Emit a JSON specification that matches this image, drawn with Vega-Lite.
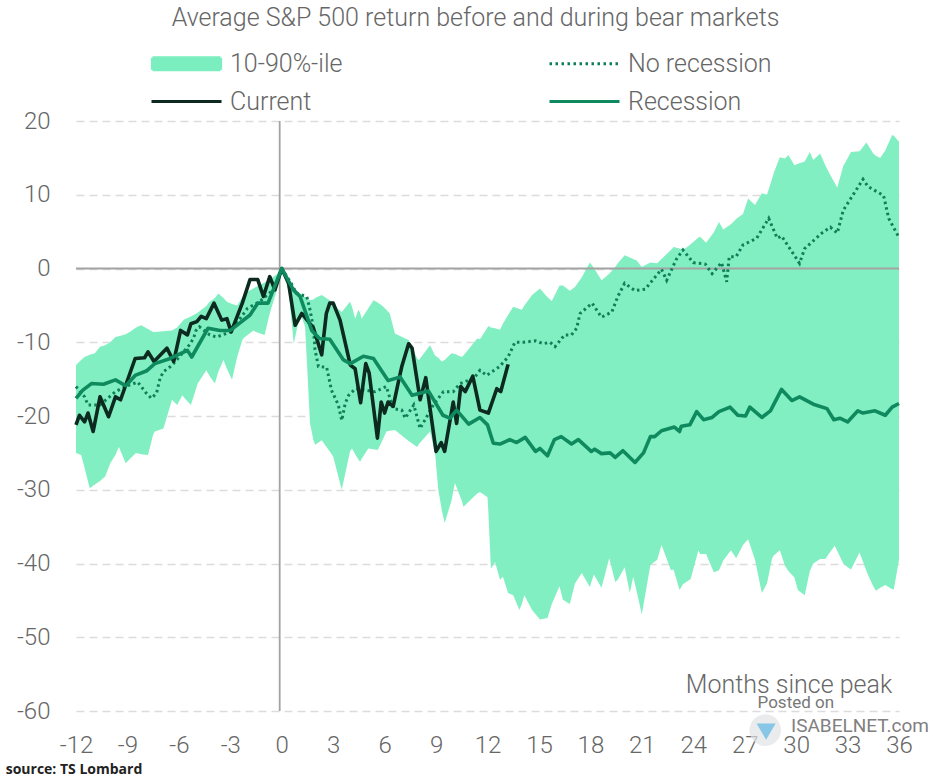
{"$schema":"https://vega.github.io/schema/vega-lite/v6.json","width":823,"height":590,"autosize":"none","padding":{"left":76,"top":121,"right":31,"bottom":69},"background":"white","config":{"view":{"stroke":null},"font":"Roboto"},"title":{"text":"Average S&P 500 return before and during bear markets","font":"Roboto","fontSize":25,"fontWeight":300,"color":"#666666","anchor":"middle","dx":-12,"offset":20},"datasets":{"band":[{"month":-12,"low":-25,"high":-13.1},{"month":-11.7,"low":-25.3,"high":-12.4},{"month":-11.5,"low":-27,"high":-12},{"month":-11.2,"low":-29.8,"high":-11.7},{"month":-10.9,"low":-29.3,"high":-11.5},{"month":-10.6,"low":-28.8,"high":-10.6},{"month":-10.3,"low":-28.2,"high":-10.4},{"month":-10,"low":-26.4,"high":-10},{"month":-9.7,"low":-25.3,"high":-9.3},{"month":-9.5,"low":-24.2,"high":-9.2},{"month":-9.1,"low":-26.4,"high":-8.9},{"month":-8.8,"low":-25.7,"high":-8.5},{"month":-8.5,"low":-25,"high":-8},{"month":-8.2,"low":-25.2,"high":-7.7},{"month":-7.8,"low":-25.3,"high":-8.2},{"month":-7.5,"low":-22.5,"high":-8.6},{"month":-7.4,"low":-22.1,"high":-8.6},{"month":-6.9,"low":-21.7,"high":-8.5},{"month":-6.4,"low":-17.8,"high":-8.4},{"month":-6.1,"low":-18.5,"high":-8},{"month":-5.8,"low":-17.2,"high":-7.2},{"month":-5.7,"low":-17.5,"high":-6.9},{"month":-5.3,"low":-18.5,"high":-6.5},{"month":-4.9,"low":-15.6,"high":-6},{"month":-4.4,"low":-13.8,"high":-5.1},{"month":-4.2,"low":-14.6,"high":-4.5},{"month":-3.9,"low":-15.6,"high":-4},{"month":-3.7,"low":-14,"high":-3.4},{"month":-3.4,"low":-12.4,"high":-4},{"month":-3.2,"low":-13.6,"high":-4.5},{"month":-2.9,"low":-15.1,"high":-4.8},{"month":-2.6,"low":-12,"high":-5},{"month":-2.3,"low":-9.7,"high":-3.9},{"month":-2.2,"low":-9.4,"high":-3.4},{"month":-1.65,"low":-8.4,"high":-2.7},{"month":-1.5,"low":-8.6,"high":-2.5},{"month":-1,"low":-9,"high":-1.9},{"month":-0.7,"low":-6.1,"high":-1.5},{"month":-0.3,"low":-3,"high":-0.8},{"month":0,"low":0,"high":0},{"month":0.4,"low":-3,"high":-2},{"month":0.7,"low":-10.2,"high":-2.8},{"month":0.9,"low":-8,"high":-3.1},{"month":1.1,"low":-6.1,"high":-3.4},{"month":1.36,"low":-7.9,"high":-3.9},{"month":1.65,"low":-21,"high":-4.3},{"month":1.85,"low":-23.3,"high":-4.2},{"month":1.95,"low":-23.9,"high":-4},{"month":2.33,"low":-23.3,"high":-3.6},{"month":2.8,"low":-24.8,"high":-4.3},{"month":3,"low":-25.5,"high":-4.9},{"month":3.5,"low":-30,"high":-5.9},{"month":3.98,"low":-24.8,"high":-4.5},{"month":4.1,"low":-24.4,"high":-5.2},{"month":4.28,"low":-25.2,"high":-6.8},{"month":4.47,"low":-25.9,"high":-5.6},{"month":4.57,"low":-26.2,"high":-6},{"month":4.66,"low":-25.8,"high":-6.8},{"month":5.05,"low":-24.4,"high":-5.4},{"month":5.35,"low":-24.5,"high":-4.3},{"month":5.6,"low":-24.6,"high":-4.6},{"month":5.93,"low":-23,"high":-5.2},{"month":6.1,"low":-22.1,"high":-5.6},{"month":6.3,"low":-22,"high":-6.1},{"month":6.6,"low":-21.9,"high":-8.8},{"month":7.2,"low":-23,"high":-9.5},{"month":7.4,"low":-23.4,"high":-9.7},{"month":7.9,"low":-24.2,"high":-12.2},{"month":8,"low":-23.8,"high":-12.4},{"month":8.65,"low":-22.1,"high":-10.4},{"month":8.94,"low":-25,"high":-11.8},{"month":9.13,"low":-30,"high":-12.1},{"month":9.33,"low":-32.7,"high":-12.6},{"month":9.5,"low":-34.5,"high":-12.4},{"month":9.9,"low":-31.5,"high":-11.5},{"month":10.1,"low":-29.1,"high":-11.6},{"month":10.5,"low":-31.5,"high":-12},{"month":10.6,"low":-32.3,"high":-11.8},{"month":11.4,"low":-30.5,"high":-9.5},{"month":11.56,"low":-30.3,"high":-9.6},{"month":12,"low":-31,"high":-8},{"month":12.05,"low":-33,"high":-7.8},{"month":12.2,"low":-40.7,"high":-8},{"month":12.44,"low":-39.8,"high":-8.1},{"month":12.73,"low":-42.2,"high":-8.3},{"month":12.9,"low":-41.8,"high":-7.5},{"month":13.2,"low":-44,"high":-6.3},{"month":13.5,"low":-44.3,"high":-5.2},{"month":13.86,"low":-46.3,"high":-5.5},{"month":14,"low":-45.5,"high":-5.6},{"month":14.15,"low":-44.3,"high":-5},{"month":14.6,"low":-46.3,"high":-3.6},{"month":15.06,"low":-47.6,"high":-2.7},{"month":15.5,"low":-47.4,"high":-3.9},{"month":15.75,"low":-45.5,"high":-4.4},{"month":16.2,"low":-43.1,"high":-2.3},{"month":16.4,"low":-44.9,"high":-2.3},{"month":16.8,"low":-45.5,"high":-3},{"month":17.1,"low":-42.7,"high":-2.5},{"month":17.5,"low":-41.3,"high":-1.2},{"month":17.97,"low":-43.2,"high":0.8},{"month":18.2,"low":-41.5,"high":0.1},{"month":18.65,"low":-43.3,"high":-1.6},{"month":19.1,"low":-39.3,"high":-0.7},{"month":19.45,"low":-42.5,"high":0.2},{"month":19.6,"low":-42.2,"high":0.7},{"month":20,"low":-40.5,"high":1.8},{"month":20.3,"low":-44,"high":1.5},{"month":20.5,"low":-41.8,"high":1.3},{"month":20.7,"low":-43.8,"high":1.1},{"month":21,"low":-46.9,"high":0.2},{"month":21.5,"low":-40.2,"high":0.8},{"month":21.9,"low":-39.5,"high":0.7},{"month":22.15,"low":-37.5,"high":1.3},{"month":22.7,"low":-40.9,"high":2.5},{"month":22.85,"low":-40.8,"high":2.9},{"month":23.2,"low":-43.6,"high":2.7},{"month":23.4,"low":-42.8,"high":2.5},{"month":23.85,"low":-42.1,"high":3.3},{"month":24.3,"low":-38.2,"high":4.2},{"month":24.4,"low":-38.7,"high":4.3},{"month":24.75,"low":-38.7,"high":3.5},{"month":25.2,"low":-41.2,"high":4.9},{"month":25.5,"low":-40.9,"high":6.3},{"month":25.75,"low":-39.6,"high":5.3},{"month":26.2,"low":-38.2,"high":6},{"month":26.5,"low":-39.3,"high":6.7},{"month":26.9,"low":-37.5,"high":7.4},{"month":27.2,"low":-36.7,"high":9.5},{"month":27.6,"low":-39.5,"high":8.6},{"month":28,"low":-44,"high":10.2},{"month":28.3,"low":-42.7,"high":10},{"month":28.6,"low":-39.3,"high":12.2},{"month":28.7,"low":-38.9,"high":13},{"month":29.05,"low":-38.2,"high":15.1},{"month":29.35,"low":-40.3,"high":14.9},{"month":29.55,"low":-41,"high":15.4},{"month":29.9,"low":-41.9,"high":14},{"month":30.1,"low":-43.6,"high":14.2},{"month":30.5,"low":-44.3,"high":14.5},{"month":30.8,"low":-41,"high":15.8},{"month":31,"low":-40,"high":14.7},{"month":31.4,"low":-39.4,"high":15.6},{"month":31.7,"low":-39.4,"high":14},{"month":31.9,"low":-38.7,"high":13.1},{"month":32.25,"low":-37.6,"high":11.6},{"month":32.4,"low":-38.3,"high":11},{"month":32.75,"low":-40,"high":13.9},{"month":32.9,"low":-40.3,"high":14.5},{"month":33.2,"low":-40.8,"high":15.8},{"month":33.7,"low":-38.5,"high":15.9},{"month":34.1,"low":-41,"high":17.1},{"month":34.2,"low":-41.6,"high":16.7},{"month":34.5,"low":-43.1,"high":15.6},{"month":34.65,"low":-43.7,"high":15.3},{"month":34.9,"low":-43.3,"high":15},{"month":35.2,"low":-42.9,"high":16},{"month":35.6,"low":-43.5,"high":18.1},{"month":35.7,"low":-43.5,"high":18},{"month":36,"low":-39.5,"high":17.2}],"norec":[{"month":-12,"value":-16},{"month":-11.5,"value":-17.4},{"month":-11.3,"value":-18.5},{"month":-10.6,"value":-18.5},{"month":-9.7,"value":-16.7},{"month":-9.1,"value":-16},{"month":-8.4,"value":-15.4},{"month":-7.9,"value":-16.9},{"month":-7.6,"value":-17.6},{"month":-7.3,"value":-16.9},{"month":-7.1,"value":-14.9},{"month":-6.9,"value":-14},{"month":-6.5,"value":-13.3},{"month":-6.2,"value":-12.6},{"month":-5.4,"value":-10.4},{"month":-5.15,"value":-9.5},{"month":-5,"value":-8.4},{"month":-4.8,"value":-7.9},{"month":-4.2,"value":-9},{"month":-3.8,"value":-9.3},{"month":-3,"value":-8.6},{"month":-2,"value":-5.4},{"month":-1.3,"value":-4.5},{"month":-0.5,"value":-2.9},{"month":0,"value":0},{"month":0.5,"value":-1.8},{"month":0.87,"value":-3.4},{"month":1.46,"value":-3.8},{"month":1.65,"value":-5.6},{"month":1.85,"value":-8.1},{"month":1.94,"value":-11},{"month":2.14,"value":-13.3},{"month":2.62,"value":-13.4},{"month":2.9,"value":-16.5},{"month":3.3,"value":-18.5},{"month":3.5,"value":-20.6},{"month":3.7,"value":-18.3},{"month":3.9,"value":-17.2},{"month":4.3,"value":-16.3},{"month":5.44,"value":-16.7},{"month":6.1,"value":-16},{"month":6.5,"value":-19},{"month":7,"value":-19.2},{"month":7.2,"value":-20.3},{"month":7.7,"value":-18.5},{"month":7.83,"value":-19.6},{"month":8.07,"value":-21.7},{"month":8.36,"value":-20.5},{"month":8.84,"value":-18.5},{"month":9.43,"value":-16.7},{"month":10,"value":-16.7},{"month":10.4,"value":-15.6},{"month":11.2,"value":-14.9},{"month":11.56,"value":-13.8},{"month":11.95,"value":-14.5},{"month":12.7,"value":-13.3},{"month":13.2,"value":-12},{"month":13.6,"value":-10},{"month":14.1,"value":-10},{"month":14.8,"value":-9.8},{"month":15.25,"value":-10.2},{"month":15.65,"value":-10},{"month":15.94,"value":-10.6},{"month":16.5,"value":-9},{"month":16.9,"value":-9},{"month":17.2,"value":-8.1},{"month":17.4,"value":-6.1},{"month":18.1,"value":-4.7},{"month":18.65,"value":-6.6},{"month":19.25,"value":-5.9},{"month":19.6,"value":-3.8},{"month":20,"value":-2},{"month":20.6,"value":-3},{"month":21.2,"value":-2.8},{"month":21.8,"value":-1.1},{"month":22.15,"value":-0.1},{"month":22.45,"value":-1.6},{"month":23,"value":1.2},{"month":23.4,"value":2.5},{"month":24,"value":0.8},{"month":24.7,"value":0.6},{"month":25.1,"value":-0.7},{"month":25.65,"value":0.8},{"month":25.95,"value":-1.8},{"month":26.1,"value":1.6},{"month":26.5,"value":1.6},{"month":26.9,"value":3.2},{"month":27.7,"value":4.1},{"month":28.4,"value":6.8},{"month":28.9,"value":4.1},{"month":29.15,"value":4.4},{"month":30.2,"value":0.7},{"month":30.5,"value":2.7},{"month":31.5,"value":4.8},{"month":32,"value":5.6},{"month":32.4,"value":4.8},{"month":32.75,"value":7.9},{"month":33.9,"value":12.1},{"month":34.2,"value":11.1},{"month":35.1,"value":9.9},{"month":35.4,"value":6.8},{"month":36,"value":4.2}],"recession":[{"month":-12,"value":-17.6},{"month":-11.6,"value":-16.5},{"month":-11.1,"value":-15.6},{"month":-10.4,"value":-15.7},{"month":-9.7,"value":-15.1},{"month":-9.1,"value":-15.9},{"month":-8.55,"value":-14.5},{"month":-7.9,"value":-13.9},{"month":-7.4,"value":-12.9},{"month":-6.5,"value":-12.2},{"month":-5.5,"value":-11.1},{"month":-5.25,"value":-12},{"month":-4.3,"value":-8.1},{"month":-3.6,"value":-8.4},{"month":-3,"value":-8.4},{"month":-1.85,"value":-6.3},{"month":-1.4,"value":-4.7},{"month":-0.8,"value":-4.7},{"month":0,"value":0},{"month":0.68,"value":-2.9},{"month":1.07,"value":-3.8},{"month":1.75,"value":-8.4},{"month":2.2,"value":-9.5},{"month":2.8,"value":-9.6},{"month":3.6,"value":-12.4},{"month":4,"value":-12.9},{"month":4.76,"value":-11.9},{"month":5.35,"value":-12.2},{"month":6.2,"value":-15.2},{"month":6.9,"value":-14.7},{"month":7.6,"value":-17.2},{"month":8.55,"value":-16.6},{"month":9.4,"value":-19.9},{"month":9.8,"value":-20.3},{"month":10.2,"value":-19.2},{"month":10.9,"value":-21.1},{"month":11.56,"value":-20.2},{"month":12,"value":-21.2},{"month":12.34,"value":-23.7},{"month":12.73,"value":-23.8},{"month":13.3,"value":-23.2},{"month":13.7,"value":-23.6},{"month":14.2,"value":-22.9},{"month":14.8,"value":-24.8},{"month":15.06,"value":-24.4},{"month":15.5,"value":-25.4},{"month":15.9,"value":-23.2},{"month":16.3,"value":-22.8},{"month":16.9,"value":-23.8},{"month":17.3,"value":-23.2},{"month":18.05,"value":-24.8},{"month":18.25,"value":-24.5},{"month":18.65,"value":-25.1},{"month":19.15,"value":-25},{"month":19.45,"value":-25.6},{"month":19.9,"value":-24.7},{"month":20.6,"value":-26.3},{"month":21.1,"value":-25},{"month":21.5,"value":-22.8},{"month":21.75,"value":-22.8},{"month":22.15,"value":-22},{"month":22.9,"value":-21.5},{"month":23.2,"value":-22.1},{"month":23.3,"value":-21.4},{"month":23.8,"value":-21.2},{"month":24.2,"value":-19.4},{"month":24.6,"value":-20.5},{"month":25.1,"value":-20.2},{"month":25.5,"value":-19.4},{"month":26.15,"value":-18.8},{"month":26.6,"value":-19.9},{"month":27.05,"value":-20},{"month":27.3,"value":-18.8},{"month":28,"value":-20.2},{"month":28.5,"value":-19.3},{"month":29.15,"value":-16.4},{"month":29.75,"value":-17.9},{"month":30.2,"value":-17.4},{"month":31,"value":-18.4},{"month":31.8,"value":-19},{"month":32.2,"value":-20.5},{"month":32.55,"value":-20.3},{"month":33,"value":-20.8},{"month":33.6,"value":-19.3},{"month":33.9,"value":-19.6},{"month":34.6,"value":-19.3},{"month":35.2,"value":-19.9},{"month":35.6,"value":-18.8},{"month":36,"value":-18.3}],"current":[{"month":-12,"value":-21.2},{"month":-11.8,"value":-19.9},{"month":-11.5,"value":-20.8},{"month":-11.3,"value":-19.6},{"month":-11,"value":-22.1},{"month":-10.6,"value":-17.4},{"month":-10.1,"value":-20.1},{"month":-9.7,"value":-17.4},{"month":-9.4,"value":-17.8},{"month":-8.55,"value":-12.2},{"month":-8,"value":-12.1},{"month":-7.8,"value":-11.3},{"month":-7.45,"value":-12.6},{"month":-6.7,"value":-10.8},{"month":-6.3,"value":-12.6},{"month":-5.9,"value":-8.4},{"month":-5.5,"value":-9},{"month":-5.3,"value":-7.5},{"month":-4.95,"value":-7.2},{"month":-4.7,"value":-6.5},{"month":-4.4,"value":-6.8},{"month":-3.95,"value":-4.7},{"month":-3.5,"value":-7},{"month":-3.2,"value":-6.8},{"month":-2.95,"value":-8.6},{"month":-2.3,"value":-4.7},{"month":-1.85,"value":-1.5},{"month":-1.4,"value":-1.5},{"month":-1.07,"value":-3.8},{"month":-0.7,"value":-1.1},{"month":-0.4,"value":-2.9},{"month":0,"value":0},{"month":0.4,"value":-2},{"month":0.78,"value":-7.7},{"month":1.17,"value":-6.1},{"month":1.85,"value":-8.1},{"month":2.33,"value":-11.7},{"month":2.6,"value":-6.1},{"month":2.8,"value":-4.7},{"month":3,"value":-4.7},{"month":3.4,"value":-7},{"month":4,"value":-13.1},{"month":4.28,"value":-13.6},{"month":4.6,"value":-18.2},{"month":4.9,"value":-12.9},{"month":5.1,"value":-14.2},{"month":5.58,"value":-23},{"month":5.8,"value":-18.1},{"month":6,"value":-19.6},{"month":6.2,"value":-18.1},{"month":6.5,"value":-18.7},{"month":6.8,"value":-15.4},{"month":7,"value":-13.3},{"month":7.4,"value":-10.2},{"month":7.6,"value":-10.8},{"month":8.07,"value":-17.8},{"month":8.4,"value":-14.8},{"month":9,"value":-24.8},{"month":9.3,"value":-23.6},{"month":9.5,"value":-24.8},{"month":10,"value":-18.1},{"month":10.2,"value":-21},{"month":10.44,"value":-16},{"month":10.7,"value":-16.7},{"month":11.14,"value":-14.6},{"month":11.56,"value":-19.2},{"month":12.05,"value":-19.6},{"month":12.54,"value":-16.3},{"month":12.77,"value":-16.7},{"month":13.2,"value":-13}]},"layer":[{"data":{"name":"band"},"mark":{"type":"area","opacity":0.95},"encoding":{"x":{"field":"month","type":"quantitative","scale":{"domain":[-12,36],"nice":false,"zero":false},"axis":{"values":[-12,-9,-6,-3,0,3,6,9,12,15,18,21,24,27,30,33,36],"grid":false,"domain":false,"ticks":false,"title":null,"labelFont":"Roboto","labelFontSize":24,"labelFontWeight":300,"labelColor":"#666666","labelPadding":22,"labelFlush":false,"labelExpr":"''+datum.value"}},"y":{"field":"low","type":"quantitative","scale":{"domain":[-60,20],"nice":false,"zero":false},"axis":{"values":[20,10,0,-10,-20,-30,-40,-50,-60],"grid":true,"gridColor":"#dcdcdc","gridDash":[8,5],"gridWidth":1.5,"domain":false,"ticks":false,"title":null,"labelFont":"Roboto","labelFontSize":24,"labelFontWeight":300,"labelColor":"#666666","labelPadding":26,"labelExpr":"''+datum.value"}},"y2":{"field":"high"},"color":{"datum":"10-90%-ile","type":"nominal","scale":{"domain":["10-90%-ile","Current","No recession","Recession"],"range":["#7beebf","#0c2a20","#0f7f58","#0f8a5f"]},"legend":{"orient":"none","legendX":98,"legendY":-70,"columns":2,"title":null,"symbolType":"M-7,0H7","symbolSize":100,"labelFont":"Roboto","labelFontSize":25,"labelFontWeight":300,"labelColor":"#666666","labelOffset":31,"columnPadding":200,"rowPadding":12,"encoding":{"symbols":{"opacity":{"value":1},"shape":{"value":{"expr":"datum.value==='10-90%-ile'?'M-6.8,-1.2H6.8V1.2H-6.8Z':'M-7,0H7'"}},"fill":{"value":{"expr":"datum.value==='10-90%-ile'?'#7beebf':'transparent'"}},"stroke":{"value":{"expr":"datum.value==='10-90%-ile'?'#7beebf':datum.value==='Current'?'#0c2a20':datum.value==='No recession'?'#0f7f58':'#0f8a5f'"}},"strokeWidth":{"value":3.2},"strokeDash":{"value":{"expr":"datum.value==='No recession'?[2.5,3.5]:[1,0]"}}}}}}}},{"data":{"values":[{"month":-12,"value":0},{"month":36,"value":0}]},"mark":{"type":"line","color":"#a3a3a3","strokeWidth":1.8},"encoding":{"x":{"field":"month","type":"quantitative"},"y":{"field":"value","type":"quantitative"}}},{"data":{"values":[{"month":-0.12,"value":20},{"month":-0.12,"value":-60}]},"mark":{"type":"line","color":"#a3a3a3","strokeWidth":1.8},"encoding":{"x":{"field":"month","type":"quantitative"},"y":{"field":"value","type":"quantitative"}}},{"data":{"name":"norec"},"mark":{"type":"line","strokeWidth":3,"strokeDash":[2.5,3.2]},"encoding":{"x":{"field":"month","type":"quantitative"},"y":{"field":"value","type":"quantitative"},"color":{"datum":"No recession","type":"nominal"}}},{"data":{"name":"current"},"mark":{"type":"line","strokeWidth":3.6,"strokeJoin":"round"},"encoding":{"x":{"field":"month","type":"quantitative"},"y":{"field":"value","type":"quantitative"},"color":{"datum":"Current","type":"nominal"}}},{"data":{"name":"recession"},"mark":{"type":"line","strokeWidth":3.6,"strokeJoin":"round"},"encoding":{"x":{"field":"month","type":"quantitative"},"y":{"field":"value","type":"quantitative"},"color":{"datum":"Recession","type":"nominal"}}},{"data":{"values":[{"month":28.2,"value":-62.6}]},"mark":{"type":"point","shape":"circle","filled":true,"size":1000,"color":"#dfe3e6"},"encoding":{"x":{"field":"month","type":"quantitative"},"y":{"field":"value","type":"quantitative"}}},{"data":{"values":[{"month":28.25,"value":-62.8}]},"mark":{"type":"point","shape":"triangle-down","filled":true,"size":360,"color":"#5db7e2"},"encoding":{"x":{"field":"month","type":"quantitative"},"y":{"field":"value","type":"quantitative"}}},{"data":{"values":[{"month":35.6,"value":-56.5,"label":"Months since peak"}]},"mark":{"type":"text","align":"right","baseline":"middle","font":"Roboto","fontSize":25,"fontWeight":300,"color":"#666666"},"encoding":{"x":{"field":"month","type":"quantitative"},"y":{"field":"value","type":"quantitative"},"text":{"field":"label"}}},{"data":{"values":[{"month":-16.1,"value":-68,"label":"source: TS Lombard"}]},"mark":{"type":"text","align":"left","baseline":"middle","font":"Open Sans","fontSize":14,"fontWeight":700,"color":"#222222"},"encoding":{"x":{"field":"month","type":"quantitative"},"y":{"field":"value","type":"quantitative"},"text":{"field":"label"}}},{"data":{"values":[{"month":27.75,"value":-58.9,"label":"Posted on"}]},"mark":{"type":"text","align":"left","baseline":"middle","font":"Roboto","fontSize":17,"color":"#777777"},"encoding":{"x":{"field":"month","type":"quantitative"},"y":{"field":"value","type":"quantitative"},"text":{"field":"label"}}},{"data":{"values":[{"month":29.7,"value":-62,"label":"ISABELNET.com"}]},"mark":{"type":"text","align":"left","baseline":"middle","font":"Roboto","fontSize":19,"color":"#808080"},"encoding":{"x":{"field":"month","type":"quantitative"},"y":{"field":"value","type":"quantitative"},"text":{"field":"label"}}}]}
